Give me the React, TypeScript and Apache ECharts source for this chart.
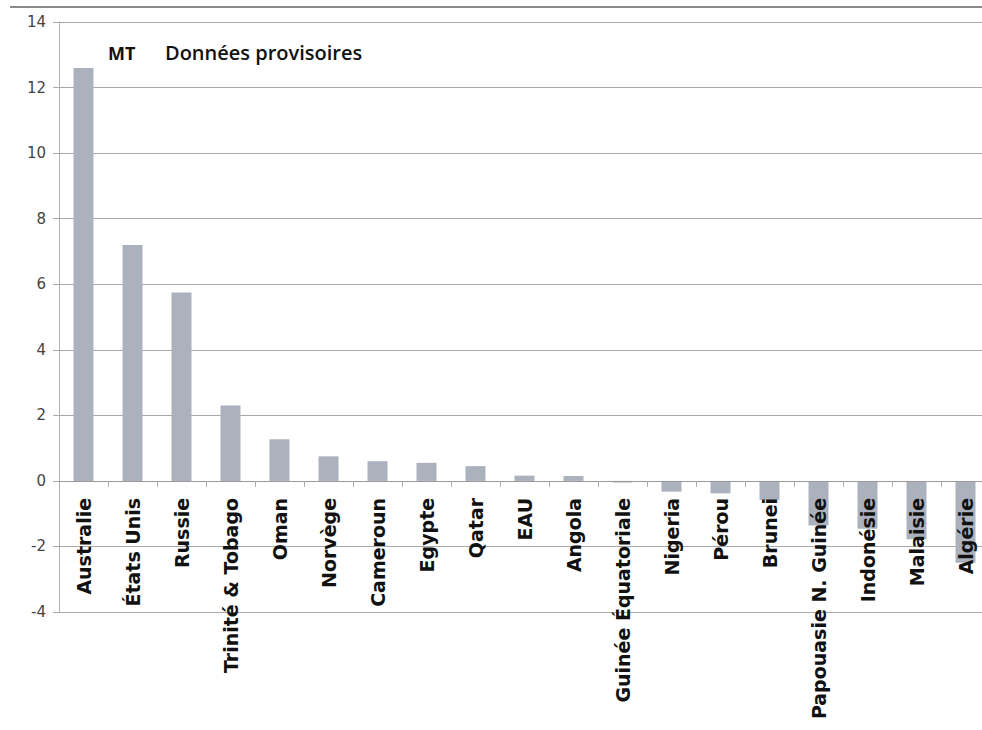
import React, { useEffect, useRef } from "react";
import * as echarts from "echarts";

const categories = [
  "Australie", "États Unis", "Russie", "Trinité & Tobago", "Oman", "Norvège",
  "Cameroun", "Egypte", "Qatar", "EAU", "Angola", "Guinée Équatoriale",
  "Nigeria", "Pérou", "Brunei", "Papouasie N. Guinée", "Indonésie", "Malaisie", "Algérie",
];
const values = [
  12.6, 7.2, 5.75, 2.3, 1.27, 0.75, 0.6, 0.55, 0.45, 0.16, 0.15, -0.05,
  -0.33, -0.38, -0.58, -1.36, -1.46, -1.78, -2.5,
];
const yTicks = { min: -4, max: 14, interval: 2 };
const titleUnit = "MT";
const titleText = "Données provisoires";

export default function App() {
  const ref = useRef<HTMLDivElement>(null);
  useEffect(() => {
    if (!ref.current) return;
    const chart = echarts.init(ref.current, null, { renderer: "svg" });
    const top = 22;
    const bottom = 118;
    const plotH = 730 - top - bottom;
    const zeroY = top + (plotH * yTicks.max) / (yTicks.max - yTicks.min);
    chart.setOption({
      animation: false,
      backgroundColor: "#ffffff",
      grid: [
        { left: 59, top, bottom, right: -8, containLabel: false, outerBoundsMode: "none" },
        { left: 59, top, bottom: 730 - zeroY, right: -8, containLabel: false, outerBoundsMode: "none" },
      ],
      xAxis: [
        {
          type: "category",
          gridIndex: 0,
          data: categories,
          axisLine: { show: false },
          axisTick: { show: false },
          axisLabel: { show: false },
        },
        {
          type: "category",
          gridIndex: 1,
          z: 10,
          data: categories,
          axisLine: { show: true, onZero: false, lineStyle: { color: "#9a9a9a", width: 1 } },
          axisTick: { show: true, length: 6, alignWithLabel: false, lineStyle: { color: "#aaaaaa" } },
          axisLabel: {
            interval: 0,
            rotate: 90,
            margin: 17,
            color: "#111111",
            fontFamily: "DejaVu Sans",
            fontWeight: "bold",
            fontSize: 19,
          },
        },
      ],
      yAxis: [
        {
          type: "value",
          gridIndex: 0,
          min: yTicks.min,
          max: yTicks.max,
          interval: yTicks.interval,
          axisLine: { show: true, lineStyle: { color: "#b0b0b0" } },
          axisTick: { show: true, length: 6, lineStyle: { color: "#aaaaaa" } },
          axisLabel: {
            margin: 13,
            color: "#444444",
            fontFamily: "DejaVu Sans",
            fontSize: 15,
          },
          splitLine: { show: true, lineStyle: { color: "#a8a8a8", width: 1 } },
        },
        {
          type: "value",
          gridIndex: 1,
          show: false,
        },
      ],
      series: [
        {
          type: "bar",
          xAxisIndex: 0,
          yAxisIndex: 0,
          data: values,
          barWidth: 20,
          itemStyle: { color: "#abb2be" },
        },
      ],
      graphic: [
        {
          type: "line",
          shape: { x1: 10, y1: 7, x2: 982, y2: 7 },
          style: { stroke: "#8a8a8a", lineWidth: 2 },
        },
        {
          type: "text",
          left: 108,
          top: 44,
          style: {
            text: titleUnit,
            font: "bold 18px 'Open Sans'",
            fill: "#111111",
          },
        },
        {
          type: "text",
          left: 165,
          top: 42,
          style: {
            text: titleText,
            font: "600 20px 'Open Sans'",
            fill: "#111111",
          },
        },
      ],
    });
    return () => chart.dispose();
  }, []);
  return (
    <div
      ref={ref}
      style={{ position: "fixed", left: 0, top: 0, width: 982, height: 730 }}
    />
  );
}
